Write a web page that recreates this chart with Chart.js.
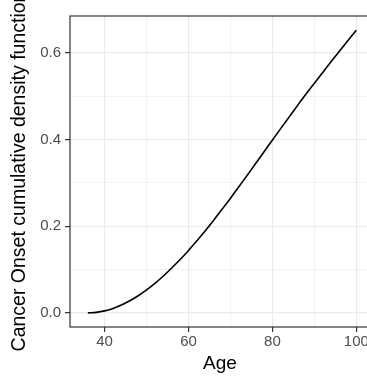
<!DOCTYPE html>
<html>
<head>
<meta charset="utf-8">
<script src="https://cdn.jsdelivr.net/npm/chart.js@4/dist/chart.umd.min.js"></script>
<style>
  html, body { margin:0; padding:0; background:#fff; }
  #wrap { width:367px; height:377px; overflow:hidden; position:relative; }
  canvas { display:block; }
</style>
</head>
<body>
<div id="wrap"><canvas id="cdf-chart" width="375" height="377" style="width:375px;height:377px"></canvas></div>
<script>
/* Cancer onset CDF by age */
const ages = [36, 38, 40, 42, 44, 46, 48, 50, 52, 54, 56, 58, 60, 62, 64, 66, 68,
              70, 72, 74, 76, 78, 80, 82, 84, 86, 88, 90, 92, 94, 96, 98, 100];
const cdf  = [0, 0.0012, 0.0046, 0.0103, 0.018, 0.0278, 0.0395, 0.053, 0.068, 0.085,
              0.1035, 0.123, 0.144, 0.1665, 0.1895, 0.2138, 0.239, 0.2645, 0.291, 0.3175,
              0.3445, 0.3715, 0.3985, 0.4255, 0.452, 0.4785, 0.5045, 0.5295, 0.5545,
              0.5795, 0.604, 0.628, 0.652];

const xTicks = [40, 50, 60, 70, 80, 90, 100];      // majors every 20, minors between
const yTicks = [0, 0.1, 0.2, 0.3, 0.4, 0.5, 0.6];  // majors every 0.2
const xMajor = [40, 60, 80, 100];
const yMajor = [0, 0.2, 0.4, 0.6];

const isMajorX = v => xMajor.includes(v);
const isMajorY = v => yMajor.some(m => Math.abs(m - v) < 1e-9);

const font = 'Liberation Sans, Arial, Helvetica, sans-serif';
const gridCol = '#ebebeb';
const frameCol = '#333333';
const tickTxt = '#4d4d4d';

// panel border (theme_bw style)
const framePlugin = {
  id: 'frame',
  afterDraw(chart) {
    const a = chart.chartArea, ctx = chart.ctx;
    ctx.save();
    ctx.strokeStyle = frameCol;
    ctx.lineWidth = 1.2;
    ctx.strokeRect(a.left, a.top, a.right - a.left, a.bottom - a.top);
    ctx.restore();
  }
};

new Chart(document.getElementById('cdf-chart'), {
  type: 'line',
  data: {
    datasets: [{
      data: ages.map((a, i) => ({ x: a, y: cdf[i] })),
      borderColor: '#000', borderWidth: 1.6, pointRadius: 0,
      cubicInterpolationMode: 'monotone', fill: false
    }]
  },
  options: {
    responsive: false, animation: false,
    layout: { padding: { top: 16, right: 5, left: 0, bottom: 0 } },
    plugins: { legend: { display: false }, tooltip: { enabled: false } },
    scales: {
      x: {
        type: 'linear', min: 31.75, max: 103.25,
        afterBuildTicks: s => { s.ticks = xTicks.map(v => ({ value: v })); },
        afterFit: s => { s.height = 50; },
        border: { display: false },
        grid: {
          color: gridCol,
          lineWidth: c => isMajorX(c.tick.value) ? 1.2 : 0.6,
          tickColor: c => isMajorX(c.tick.value) ? frameCol : 'rgba(0,0,0,0)',
          tickLength: 5, tickWidth: 1.2
        },
        ticks: {
          color: tickTxt, padding: 1, maxRotation: 0, autoSkip: false,
          font: { family: font, size: 15 },
          callback: v => isMajorX(v) ? String(v) : ''
        },
        title: { display: true, text: 'Age', color: '#000', font: { family: font, size: 19 }, padding: { top: 0, bottom: 2 } }
      },
      y: {
        min: -0.0326, max: 0.6846,
        afterBuildTicks: s => { s.ticks = yTicks.map(v => ({ value: v })); },
        afterFit: s => { s.width = 70; },
        border: { display: false },
        grid: {
          color: gridCol,
          lineWidth: c => isMajorY(c.tick.value) ? 1.2 : 0.6,
          tickColor: c => isMajorY(c.tick.value) ? frameCol : 'rgba(0,0,0,0)',
          tickLength: 5, tickWidth: 1.2
        },
        ticks: {
          color: tickTxt, padding: 4, autoSkip: false,
          font: { family: font, size: 15 },
          callback: v => isMajorY(v) ? v.toFixed(1) : ''
        },
        title: { display: true, text: 'Cancer Onset cumulative density function', color: '#000', font: { family: font, size: 19.5 }, padding: { top: 8, bottom: 0 } }
      }
    }
  },
  plugins: [framePlugin]
});
</script>
</body>
</html>
